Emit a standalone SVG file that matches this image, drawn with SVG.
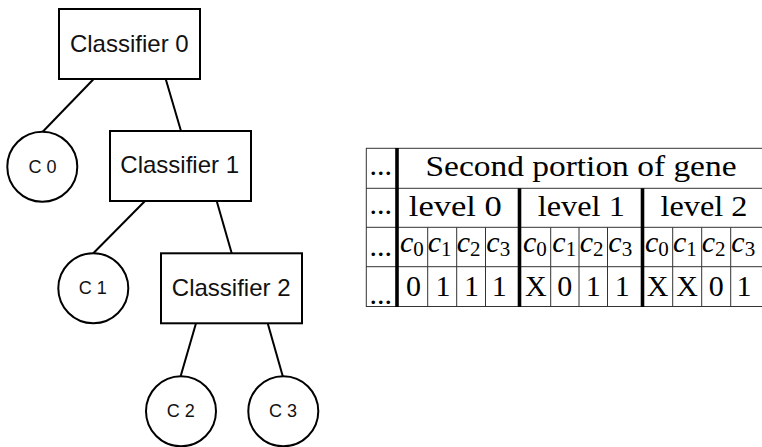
<svg xmlns="http://www.w3.org/2000/svg" width="762" height="447" viewBox="0 0 762 447">
  <style>
    .box { fill: #fff; stroke: #000; stroke-width: 2; }
    .leaf { fill: #fff; stroke: #000; stroke-width: 2; }
    .edge { stroke: #000; stroke-width: 2; fill: none; }
    .cls { font-family: "Liberation Sans", Arial, sans-serif; font-size: 24px; fill: #111; text-anchor: middle; }
    .lbl { font-family: "Liberation Sans", Arial, sans-serif; font-size: 18px; fill: #111; text-anchor: middle; }
    .rule { stroke: #333; stroke-width: 1; }
    .thick { stroke: #000; stroke-width: 3.6; }
    .tx { font-family: "Liberation Serif", "Times New Roman", serif; font-size: 30px; fill: #000; }
    .mid { text-anchor: middle; }
    .var { font-family: "Liberation Serif", "Times New Roman", serif; font-size: 30px; font-style: italic; fill: #000; }
    .sub { font-style: normal; font-size: 21px; }
  </style>
  <rect width="762" height="447" fill="#fff"/>

  <!-- tree connectors -->
  <g id="connectors">
    <line class="edge" x1="93.7" y1="79" x2="42.7" y2="131.7"/>
    <line class="edge" x1="165.7" y1="79" x2="181" y2="131"/>
    <line class="edge" x1="145" y1="201" x2="93.3" y2="253.3"/>
    <line class="edge" x1="216.7" y1="201" x2="231.7" y2="253.3"/>
    <line class="edge" x1="196" y1="323.3" x2="180.7" y2="376"/>
    <line class="edge" x1="267.7" y1="323.3" x2="282.7" y2="376"/>
  </g>

  <!-- tree nodes -->
  <g id="classifier0">
    <rect class="box" x="59" y="9" width="141" height="70"/>
    <text class="cls" x="129.3" y="51.5">Classifier 0</text>
  </g>
  <g id="c0">
    <circle class="leaf" cx="42.3" cy="166.7" r="35"/>
    <text class="lbl" x="42.5" y="172.7">C 0</text>
  </g>
  <g id="classifier1">
    <rect class="box" x="110" y="131" width="141" height="70"/>
    <text class="cls" x="179.7" y="172.7">Classifier 1</text>
  </g>
  <g id="c1">
    <circle class="leaf" cx="93.3" cy="288.3" r="35"/>
    <text class="lbl" x="92.7" y="294">C 1</text>
  </g>
  <g id="classifier2">
    <rect class="box" x="161" y="253.3" width="141" height="70"/>
    <text class="cls" x="231.2" y="296">Classifier 2</text>
  </g>
  <g id="c2">
    <circle class="leaf" cx="181" cy="411.3" r="35"/>
    <text class="lbl" x="180.7" y="416.7">C 2</text>
  </g>
  <g id="c3">
    <circle class="leaf" cx="283.3" cy="411.3" r="35"/>
    <text class="lbl" x="283" y="416.7">C 3</text>
  </g>

  <!-- gene table -->
  <g id="gene-table">
    <!-- horizontal rules -->
    <line class="rule" x1="366" y1="148.3" x2="762" y2="148.3"/>
    <line class="rule" x1="366" y1="188.3" x2="762" y2="188.3"/>
    <line class="rule" x1="366" y1="227.3" x2="762" y2="227.3"/>
    <line class="rule" x1="366" y1="266.7" x2="762" y2="266.7"/>
    <line class="rule" x1="366" y1="306.5" x2="762" y2="306.5"/>
    <!-- outer left rule and heavy separators -->
    <line class="rule" x1="366.3" y1="148" x2="366.3" y2="307"/>
    <line class="thick" x1="397" y1="148" x2="397" y2="307"/>
    <line class="thick" x1="519.5" y1="188.3" x2="519.5" y2="307"/>
    <line class="thick" x1="642.5" y1="188.3" x2="642.5" y2="307"/>
    <!-- thin bit separators -->
    <line class="rule" x1="427.7" y1="227.3" x2="427.7" y2="306.5"/>
    <line class="rule" x1="456.7" y1="227.3" x2="456.7" y2="306.5"/>
    <line class="rule" x1="485.5" y1="227.3" x2="485.5" y2="306.5"/>
    <line class="rule" x1="550.7" y1="227.3" x2="550.7" y2="306.5"/>
    <line class="rule" x1="579" y1="227.3" x2="579" y2="306.5"/>
    <line class="rule" x1="607.5" y1="227.3" x2="607.5" y2="306.5"/>
    <line class="rule" x1="672.7" y1="227.3" x2="672.7" y2="306.5"/>
    <line class="rule" x1="701.7" y1="227.3" x2="701.7" y2="306.5"/>
    <line class="rule" x1="730.7" y1="227.3" x2="730.7" y2="306.5"/>

    <!-- ellipsis column -->
    <text class="tx" x="369.5" y="175">...</text>
    <text class="tx" x="369.5" y="213.5">...</text>
    <text class="tx" x="369.5" y="256">...</text>
    <text class="tx" x="369.5" y="303.5">...</text>

    <!-- header rows -->
    <text class="tx" x="425.5" y="176" textLength="311" lengthAdjust="spacingAndGlyphs">Second portion of gene</text>
    <text class="tx" x="408.8" y="216" textLength="93" lengthAdjust="spacingAndGlyphs">level 0</text>
    <text class="tx" x="537.8" y="216" textLength="87" lengthAdjust="spacingAndGlyphs">level 1</text>
    <text class="tx" x="660.5" y="216" textLength="87" lengthAdjust="spacingAndGlyphs">level 2</text>

    <!-- bit labels -->
    <text class="var" x="400" y="251.7">c<tspan class="sub" dy="4.3">0</tspan></text>
    <text class="var" x="427.7" y="251.7">c<tspan class="sub" dy="4.3">1</tspan></text>
    <text class="var" x="456.7" y="251.7">c<tspan class="sub" dy="4.3">2</tspan></text>
    <text class="var" x="486.3" y="251.7">c<tspan class="sub" dy="4.3">3</tspan></text>
    <text class="var" x="523" y="251.7">c<tspan class="sub" dy="4.3">0</tspan></text>
    <text class="var" x="552.3" y="251.7">c<tspan class="sub" dy="4.3">1</tspan></text>
    <text class="var" x="579.7" y="251.7">c<tspan class="sub" dy="4.3">2</tspan></text>
    <text class="var" x="608.3" y="251.7">c<tspan class="sub" dy="4.3">3</tspan></text>
    <text class="var" x="645" y="251.7">c<tspan class="sub" dy="4.3">0</tspan></text>
    <text class="var" x="673" y="251.7">c<tspan class="sub" dy="4.3">1</tspan></text>
    <text class="var" x="701.7" y="251.7">c<tspan class="sub" dy="4.3">2</tspan></text>
    <text class="var" x="731.3" y="251.7">c<tspan class="sub" dy="4.3">3</tspan></text>

    <!-- bit values -->
    <text class="tx mid" x="413.5" y="296">0</text>
    <text class="tx mid" x="443" y="296">1</text>
    <text class="tx mid" x="471.5" y="296">1</text>
    <text class="tx mid" x="499.2" y="296">1</text>
    <text class="tx mid" x="535.8" y="296">X</text>
    <text class="tx mid" x="564.8" y="296">0</text>
    <text class="tx mid" x="593.3" y="296">1</text>
    <text class="tx mid" x="622.2" y="296">1</text>
    <text class="tx mid" x="657.7" y="296">X</text>
    <text class="tx mid" x="687.2" y="296">X</text>
    <text class="tx mid" x="716.2" y="296">0</text>
    <text class="tx mid" x="744" y="296">1</text>
  </g>
</svg>
